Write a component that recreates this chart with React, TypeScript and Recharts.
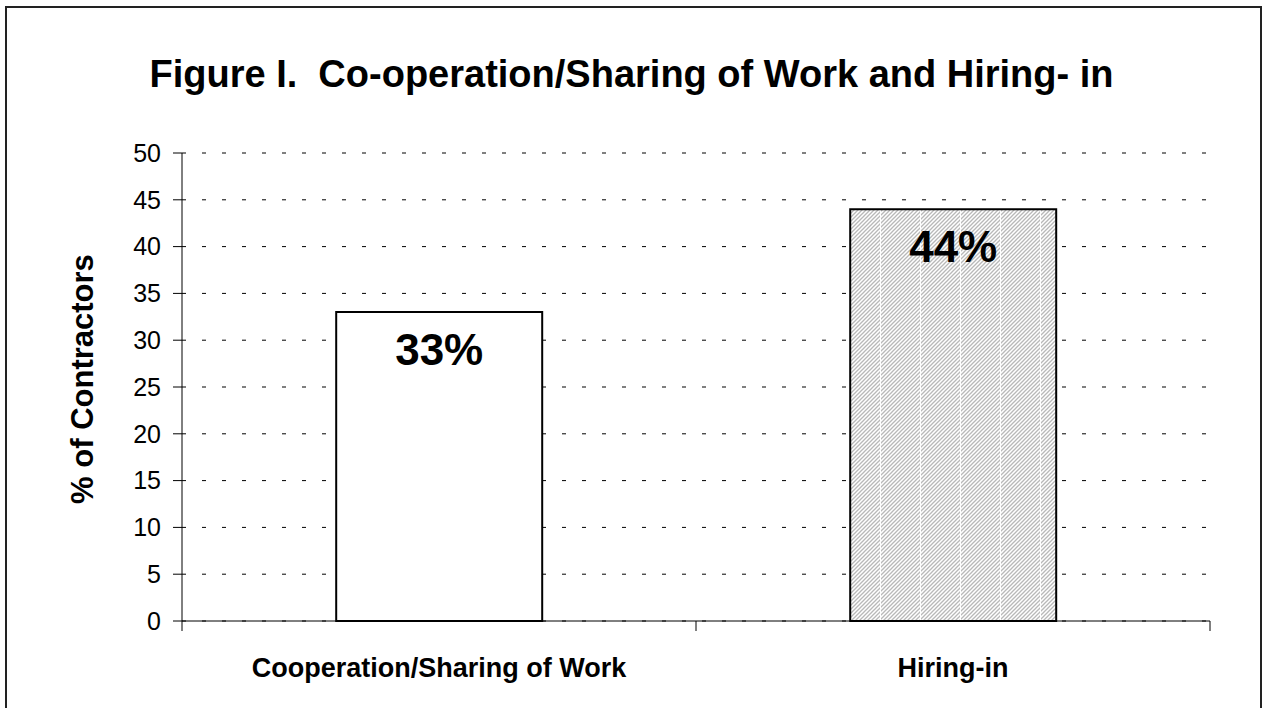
import React from "react";
import { BarChart, Bar, XAxis, YAxis, CartesianGrid, LabelList, Cell } from "recharts";

const categories = ["Cooperation/Sharing of Work", "Hiring-in"];
const percentages = [33, 44];
const yTicks = [0, 5, 10, 15, 20, 25, 30, 35, 40, 45, 50];
const barFills = ["#ffffff", "url(#hatchCols)"];

const data = categories.map((name, i) => ({ name, value: percentages[i] }));

const FONT = '"Liberation Sans", Arial, Helvetica, sans-serif';

const CategoryTick = (props: any) => {
  const { x, y, payload, width, visibleTicksCount, index } = props;
  const band = width / visibleTicksCount;
  return (
    <g>
      <line x1={x - band / 2} x2={x - band / 2} y1={y} y2={y + 10} stroke="#000" />
      {index === visibleTicksCount - 1 && (
        <line x1={x + band / 2} x2={x + band / 2} y1={y} y2={y + 10} stroke="#000" />
      )}
      <text
        x={x}
        y={y + 56}
        textAnchor="middle"
        fontSize={27}
        fontWeight="bold"
        fontFamily={FONT}
        fill="#000"
      >
        {payload.value}
      </text>
    </g>
  );
};

const renderPct = (props: any) => {
  const { x, y, width, value } = props;
  return (
    <text
      x={x + width / 2}
      y={y + 53}
      textAnchor="middle"
      fontSize={44}
      fontWeight="bold"
      fontFamily={FONT}
      fill="#000"
    >
      {`${value}%`}
    </text>
  );
};

const renderYLabel = (props: any) => {
  const { viewBox } = props;
  const cy = viewBox.y + viewBox.height / 2 - 8;
  return (
    <text
      x={82}
      y={cy}
      transform={`rotate(-90, 82, ${cy})`}
      textAnchor="middle"
      dominantBaseline="central"
      fontSize={31}
      fontWeight="bold"
      fontFamily={FONT}
      fill="#000"
    >
      % of Contractors
    </text>
  );
};

export default function App() {
  return (
    <div
      style={{
        position: "absolute",
        left: 0,
        top: 0,
        width: 1263,
        height: 708,
        overflow: "hidden",
        background: "#fff",
        fontFamily: FONT,
      }}
    >
      <svg width={0} height={0} style={{ position: "absolute" }}>
        <defs>
          <pattern id="hatch" patternUnits="userSpaceOnUse" width={4} height={4}>
            <rect width={4} height={4} fill="#fff" />
            <path d="M-1,1 L1,-1 M0,4 L4,0 M3,5 L5,3" stroke="#b8b8b8" strokeWidth={1.3} />
          </pattern>
          <pattern id="hatchCols" patternUnits="userSpaceOnUse" width={40} height={40}>
            <rect width={40} height={40} fill="url(#hatch)" />
            <line x1={0.5} x2={0.5} y1={0} y2={40} stroke="#fff" strokeWidth={1} />
          </pattern>
        </defs>
      </svg>
      <div
        style={{
          position: "absolute",
          left: 5,
          top: 6,
          width: 1253,
          height: 760,
          border: "2px solid #222",
        }}
      />
      <div
        style={{
          position: "absolute",
          left: 0,
          top: 53,
          width: 1263,
          textAlign: "center",
          fontSize: 38,
          fontWeight: "bold",
          whiteSpace: "pre",
          color: "#000",
        }}
      >
        {"Figure I.  Co-operation/Sharing of Work and Hiring- in"}
      </div>
      <div style={{ position: "absolute", left: 0, top: 0 }}>
        <BarChart
          width={1263}
          height={708}
          data={data}
          margin={{ top: 153, right: 53, left: 0, bottom: 0 }}
          barCategoryGap="30%"
        >
          <CartesianGrid vertical={false} stroke="#000" strokeDasharray="4 16" />
          <XAxis
            dataKey="name"
            height={87}
            axisLine={{ stroke: "#000" }}
            tickLine={false}
            tickSize={0}
            tickMargin={0}
            tick={<CategoryTick />}
            interval={0}
          />
          <YAxis
            type="number"
            domain={[0, 50]}
            ticks={yTicks}
            width={182}
            axisLine={{ stroke: "#000" }}
            tickLine={{ stroke: "#000" }}
            tickSize={9}
            tickMargin={12}
            tick={{ fontSize: 25, fill: "#000", fontFamily: FONT }}
            label={{ content: renderYLabel }}
          />
          <Bar dataKey="value" stroke="#000" strokeWidth={2} isAnimationActive={false}>
            {data.map((d, i) => (
              <Cell key={d.name} fill={barFills[i]} />
            ))}
            <LabelList dataKey="value" content={renderPct} />
          </Bar>
        </BarChart>
      </div>
    </div>
  );
}
